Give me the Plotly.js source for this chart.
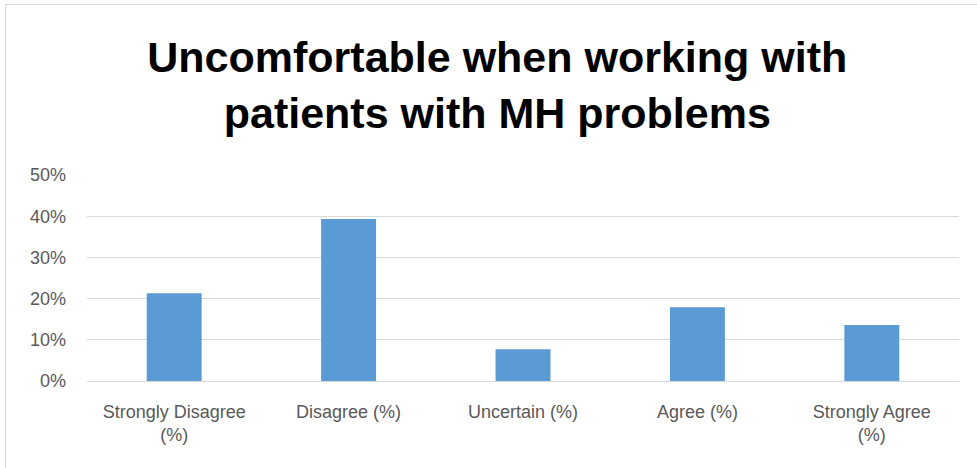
<!DOCTYPE html>
<html>
<head>
<meta charset="utf-8">
<script src="https://cdn.plot.ly/plotly-3.0.1.min.js"></script>
<style>
  html, body { margin: 0; padding: 0; background: #fff; }
  #wrap { position: relative; width: 977px; height: 468px; }
  #chart { width: 977px; height: 468px; }
  #frame { position: absolute; left: 5px; top: 4px; right: -2px; bottom: -2px;
           border: 1px solid #d9d9d9; pointer-events: none; }
</style>
</head>
<body>
<div id="wrap">
  <div id="chart"></div>
  <div id="frame"></div>
</div>
<script>
const categories = ["Strongly Disagree<br>(%)", "Disagree (%)", "Uncertain (%)", "Agree (%)", "Strongly Agree<br>(%)"];
const values = [0.213, 0.393, 0.077, 0.179, 0.136];
const yTickVals = [0, 0.1, 0.2, 0.3, 0.4, 0.5];
const yTickText = ["0%", "10%", "20%", "30%", "40%", "50%"];
const titleText = "Uncomfortable when working with<br>patients with MH problems";

const trace = {
  type: "bar",
  x: categories,
  y: values,
  marker: { color: "#5b9bd5" },
  hoverinfo: "x+y"
};

const layout = {
  width: 977,
  height: 468,
  paper_bgcolor: "#ffffff",
  plot_bgcolor: "#ffffff",
  margin: { l: 87, r: 18, t: 175, b: 87 },
  bargap: 0.685,
  showlegend: false,
  title: {
    text: titleText,
    font: { family: "Liberation Sans, Arial, sans-serif", size: 43, color: "#000000", weight: "bold" },
    x: 0.509,
    xanchor: "center",
    yref: "container",
    y: 1 - 72 / 468,
    yanchor: "top"
  },
  xaxis: {
    type: "category",
    showgrid: false,
    showline: false,
    zeroline: false,
    ticks: "",
    tickfont: { family: "Liberation Sans, Arial, sans-serif", size: 18, color: "#595959" },
    ticklabelstandoff: 18
  },
  yaxis: {
    range: [0, 0.5],
    tickvals: yTickVals,
    ticktext: yTickText,
    showgrid: true,
    gridcolor: "#d9d9d9",
    gridwidth: 1,
    zeroline: true,
    zerolinecolor: "#d9d9d9",
    zerolinewidth: 1,
    showline: false,
    ticks: "",
    tickfont: { family: "Liberation Sans, Arial, sans-serif", size: 18, color: "#595959" },
    ticklabelstandoff: 20
  }
};

Plotly.newPlot("chart", [trace], layout, { displayModeBar: false, staticPlot: true });
</script>
</body>
</html>
